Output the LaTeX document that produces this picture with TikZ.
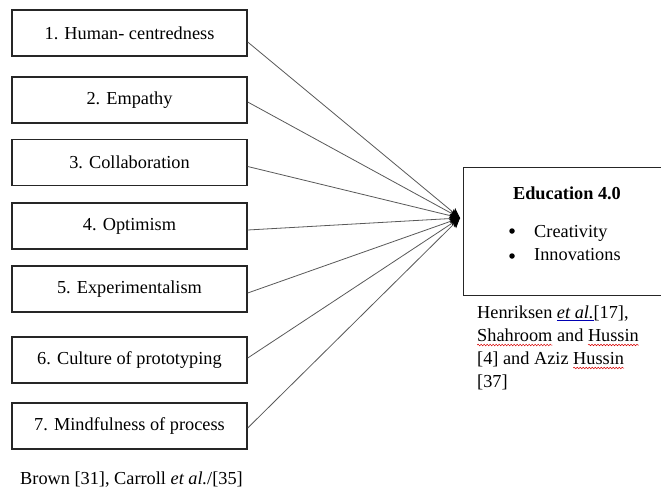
\documentclass[tikz,border=0pt]{standalone}
\usepackage{fontspec}
\setmainfont{Liberation Serif}
\usetikzlibrary{arrows.meta,positioning,decorations.pathmorphing}
\newcommand{\redwave}[1]{\setbox0\hbox{#1}\leavevmode\rlap{\copy0}\rlap{\tikz[baseline=0pt,x=1pt,y=1pt]{\useasboundingbox (0pt,0pt) rectangle (\the\wd0,0pt); \draw[red!85!black, line width=0.5pt, decorate, decoration={snake, amplitude=0.8pt, segment length=3pt}] (0pt,-4pt) -- (\the\wd0,-4pt);}}\hspace{\wd0}}
\newcommand{\blueline}[1]{\setbox0\hbox{#1}\leavevmode\rlap{\copy0}\rlap{\color{blue!70!black}\rule[-3pt]{\wd0}{0.8pt}}\hspace{\wd0}}
\tikzset{
  factor/.style={draw=black!85, line width=1.4pt, minimum width=235pt, minimum height=46pt, inner sep=0pt, font=\fontsize{18.3}{23}\selectfont},
  link/.style={draw=black!65, line width=0.8pt, -{Stealth[length=10pt,width=9pt,inset=2pt,color=black]}},
  txt/.style={font=\fontsize{18.3}{23}\selectfont, inner sep=0pt},
  bul/.style={circle, fill=black, inner sep=0pt, minimum size=5.5pt}
}
\begin{document}
\begin{tikzpicture}[x=1pt,y=-1pt]
\useasboundingbox[fill=white] (0,0) rectangle (661,490);
\node[factor] (b1) at (129.5,33) {1. Human- centredness};
\node[factor] (b2) at (129.5,100) {2. Empathy};
\node[factor] (b3) at (129.5,162.5) {3. Collaboration};
\node[factor] (b4) at (129.5,226) {4. Optimism};
\node[factor] (b5) at (129.5,289) {5. Experimentalism};
\node[factor] (b6) at (129.5,360) {6. Culture of prototyping};
\node[factor] (b7) at (129.5,426) {7. Mindfulness of process};
\node[draw=black!85, line width=1.4pt, minimum width=240pt, minimum height=128pt, inner sep=0pt, anchor=north west] (edu) at (463,167) {};
\node[txt, font=\fontsize{18.3}{23}\selectfont\bfseries] (eduT) at (567,193) {Education 4.0};
\node[txt, anchor=base west] (c1) at (534,237) {Creativity};
\node[txt, anchor=base west] (c2) at (534,260) {Innovations};
\node[bul] (d1) at (512,231) {};
\node[bul] (d2) at (512,256) {};
\coordinate (tip) at (460,218);
\draw[link] ([yshift=-9pt]b1.east) -- (tip);
\draw[link] ([yshift=-2pt]b2.east) -- (tip);
\draw[link] ([yshift=-4pt]b3.east) -- (tip);
\draw[link] ([yshift=-4pt]b4.east) -- (tip);
\draw[link] ([yshift=-4pt]b5.east) -- (tip);
\draw[link] ([yshift=2pt]b6.east) -- (tip);
\draw[link] ([yshift=-2pt]b7.east) -- (tip);
\node[txt, anchor=base west] (r1) at (477,318) {Henriksen \blueline{\textit{et al.}}[17],};
\node[txt, anchor=base west] (r2) at (477,341) {\redwave{Shahroom} and \redwave{Hussin}};
\node[txt, anchor=base west] (r3) at (477,364) {[4] and Aziz \redwave{Hussin}};
\node[txt, anchor=base west] (r4) at (477,387) {[37]};
\node[txt, anchor=base west] (ref) at (20,484) {Brown [31], Carroll \textit{et al.}/[35]};
\end{tikzpicture}
\end{document}
